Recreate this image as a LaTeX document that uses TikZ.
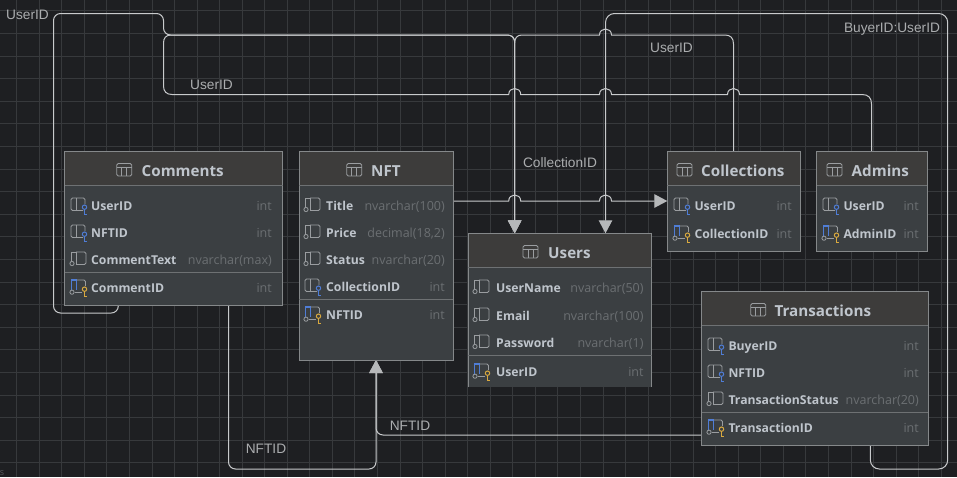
\documentclass[tikz,border=0pt]{standalone}
\usepackage{fontspec}
\setmainfont{Open Sans}
\newfontfamily\lblfont{Liberation Sans}
\usetikzlibrary{arrows.meta,calc}
\definecolor{bgc}{HTML}{1E1F22}
\definecolor{gridc}{HTML}{37393C}
\definecolor{bodyc}{HTML}{3B3F42}
\definecolor{hdrc}{HTML}{3D3C3B}
\definecolor{edgec}{HTML}{85888A}
\definecolor{sepc}{HTML}{6E7173}
\definecolor{relc}{HTML}{C8CACC}
\definecolor{tipc}{HTML}{B6B8BA}
\definecolor{namec}{HTML}{BFC5CC}
\definecolor{typec}{HTML}{6B6F72}
\definecolor{lblc}{HTML}{ABADAF}
\definecolor{iconc}{HTML}{9A9DA0}
\definecolor{bluec}{HTML}{4F7DD6}
\definecolor{yelc}{HTML}{D9A93F}
\tikzset{
  tbl/.style={fill=bodyc,draw=edgec,line width=1pt,anchor=north west,inner sep=0pt,outer sep=0pt},
  tblopen/.style={fill=bodyc,draw=none,anchor=north west,inner sep=0pt,outer sep=0pt},
  hdr/.style={fill=hdrc},
  sepline/.style={draw=sepc,line width=1pt},
  edgeline/.style={draw=edgec,line width=1pt},
  rel/.style={draw=relc,line width=1pt,rounded corners=7pt},
  relsharp/.style={draw=relc,line width=1pt},
  tipped/.style={-{Triangle[width=13.5pt,length=13pt,fill=tipc,color=tipc]}},
  lbl/.style={text=lblc,font=\lblfont\fontsize{13.7}{15}\selectfont,inner sep=0pt},
  title/.style={text=namec,font=\bfseries\fontsize{15.2}{17}\selectfont,anchor=base west,inner sep=0pt},
  colname/.style={text=namec,font=\bfseries\fontsize{12.2}{14}\selectfont,anchor=base west,inner sep=0pt},
  coltype/.style={text=typec,font=\fontsize{12.5}{14}\selectfont,anchor=base east,inner sep=0pt},
  icontable/.pic={
    \draw[iconc,line width=.9pt,rounded corners=1.5pt] (0,-6.5) rectangle (15,6);
    \draw[iconc,line width=.8pt] (0,-3) -- (15,-3) (5,-3) -- (5,6) (10,-3) -- (10,6);
  },
  iconplain/.pic={
    \draw[iconc,line width=.9pt,rounded corners=1.5pt] (6,-7) -- (16,-7) -- (16,5.5) -- (6,5.5);
    \draw[iconc,line width=.9pt] (6,-7) -- (1.5,-7) -- (1.5,2.5);
    \draw[iconc,line width=.9pt] (6,-7) -- (6,5.5);
    \draw[iconc,line width=.8pt,fill=bodyc] (2,4.5) circle (2.1pt);
  },
  iconfk/.pic={
    \draw[iconc,line width=.9pt,rounded corners=1.5pt] (13,5.5) -- (1,5.5) -- (1,-7) -- (15,-7) -- (15,-1);
    \draw[iconc,line width=.9pt] (6,-7) -- (6,5.5);
    \draw[bluec,line width=1pt] (14.5,2.2) circle (2.2pt);
    \draw[bluec,line width=1pt] (14.5,4.4) -- (14.5,9) -- (16.5,9);
  },
  iconpk/.pic={
    \draw[bluec,line width=1.1pt] (1.5,3) -- (1.5,-7) -- (6.5,-7) -- (6.5,3);
    \draw[iconc,line width=.9pt,rounded corners=1.5pt] (6.5,-7) -- (15.5,-7) -- (15.5,-1);
    \draw[iconc,line width=.9pt] (5,5.5) -- (12,5.5);
    \draw[iconc,line width=.8pt,fill=bodyc] (2,5.2) circle (2.1pt);
    \draw[yelc,line width=1pt] (14.5,2.2) circle (2.2pt);
    \draw[yelc,line width=1pt] (14.5,4.4) -- (14.5,9) -- (16.5,9);
  },
}
% id, icon, icon x, text x, type right x, row centre y, name, type
\newcommand{\colrow}[8]{%
  \pic at (#3,#6) {#2};
  \node[colname] (#1n) at (#4,#6+5) {#7};
  \node[coltype] (#1t) at (#5,#6+5) {#8};
}
\newcommand{\tbltitle}[5]{%
  \pic at (#2,#5) {icontable};
  \node[title] (#1) at (#3,#5+6) {#4};
}
\begin{document}
\begin{tikzpicture}[x=1pt,y=-1pt]
\useasboundingbox (0,0) rectangle (957,477);
\fill[bgc] (0,0) rectangle (957,477);
% canvas grid
\foreach \i in {0,...,42} {\draw[gridc,line width=.9pt] ({-5.9+22.55*\i},0) -- ({-5.9+22.55*\i},477);}
\foreach \i in {0,...,21} {\draw[gridc,line width=.9pt] (0,{10.9+22.6*\i}) -- (957,{10.9+22.6*\i});}
\node[text=typec!70!bgc,font=\fontsize{9}{10}\selectfont,inner sep=0pt] (cornertext) at (2,473) {s};
% tables (shapes)
\node[tbl,minimum width=218pt,minimum height=153.4pt] (comments) at (64.7,151.7) {};
\node[tbl,minimum width=154pt,minimum height=208.3pt] (nft) at (299.3,151.7) {};
\node[tblopen,minimum width=183.4pt,minimum height=153.7pt] (users) at (468.3,233.3) {};
\node[tbl,minimum width=133pt,minimum height=99.3pt] (collections) at (667.3,151.7) {};
\node[tbl,minimum width=110.6pt,minimum height=99.3pt] (admins) at (816.7,151.7) {};
\node[tbl,minimum width=226.6pt,minimum height=153.6pt] (transactions) at (701.7,291.7) {};
% connectors
\draw[rel,tipped] ($(comments.south west)+(53.6,0)$) -- (118.3,313) -- (53.5,313) -- (53.5,13.5) -- (163.5,13.5) -- (163.5,35) -- (514.7,35) -- ($(users.north west)+(46.4,0)$);
\draw[relsharp,tipped] ($(collections.north west)+(66.2,0)$) -- (733.5,44) .. controls (733.5,38) and (730.5,35) .. (725,35) -- (611.5,35) .. controls (611.5,27) and (599.5,27) .. (599.5,35) -- (522,35) .. controls (517,35) and (514.7,38) .. (514.7,43) -- ($(users.north west)+(46.4,0)$);
\draw[relsharp,tipped] ($(admins.north west)+(54.8,0)$) -- (871.5,104) .. controls (871.5,98) and (868.5,94.5) .. (862,94.5) -- (739.5,94.5) .. controls (739.5,86.5) and (727.5,86.5) .. (727.5,94.5) -- (611.5,94.5) .. controls (611.5,86.5) and (599.5,86.5) .. (599.5,94.5) -- (520.7,94.5) .. controls (520.7,86.5) and (508.7,86.5) .. (508.7,94.5) -- (172,94.5) .. controls (166.5,94.5) and (163.5,91.5) .. (163.5,86) -- (163.5,43) .. controls (163.5,38) and (166,35) .. (171,35) -- (507,35) .. controls (512.5,35) and (514.7,38) .. (514.7,43) -- ($(users.north west)+(46.4,0)$);
\draw[rel,tipped,rounded corners=9pt] ($(transactions.south west)+(168.6,0)$) -- (870.3,469) -- (947.7,469) -- (947.7,13.5) -- (605.5,13.5) -- ($(users.north west)+(137.2,0)$);
\draw[relsharp,tipped] (nft.east |- 0,201) -- (508.7,201) .. controls (508.7,193) and (520.7,193) .. (520.7,201) -- (599.5,201) .. controls (599.5,193) and (611.5,193) .. (611.5,201) -- (collections.west |- 0,201);
\draw[rel,tipped] ($(comments.south west)+(163.9,0)$) -- (228.5,469) -- (376,469) -- ($(nft.south west)+(76.7,0)$);
\draw[rel,tipped] (transactions.west |- 0,435) -- (376,435) -- ($(nft.south west)+(76.7,0)$);
% redraw table fronts (headers, separators)
\fill[hdr] (comments.north west) rectangle ($(comments.north east)+(0,34)$);
\fill[hdr] (nft.north west) rectangle ($(nft.north east)+(0,34)$);
\fill[hdr] (users.north west) rectangle ($(users.north east)+(0,34.4)$);
\fill[hdr] (collections.north west) rectangle ($(collections.north east)+(0,33.6)$);
\fill[hdr] (admins.north west) rectangle ($(admins.north east)+(0,33.6)$);
\fill[hdr] (transactions.north west) rectangle ($(transactions.north east)+(0,34)$);
\draw[edgeline] (comments.north west) rectangle (comments.south east);
\draw[edgeline] (nft.north west) rectangle (nft.south east);
\draw[edgeline] (users.south west) -- (users.north west) -- (users.north east) -- (users.south east);
\draw[edgeline] (collections.north west) rectangle (collections.south east);
\draw[edgeline] (admins.north west) rectangle (admins.south east);
\draw[edgeline] (transactions.north west) rectangle (transactions.south east);
\draw[sepline] ($(comments.north west)+(0,34)$) -- ($(comments.north east)+(0,34)$);
\draw[sepline] ($(comments.north west)+(0,120.6)$) -- ($(comments.north east)+(0,120.6)$);
\draw[sepline] ($(nft.north west)+(0,34)$) -- ($(nft.north east)+(0,34)$);
\draw[sepline] ($(nft.north west)+(0,147.6)$) -- ($(nft.north east)+(0,147.6)$);
\draw[sepline] ($(users.north west)+(0,34.4)$) -- ($(users.north east)+(0,34.4)$);
\draw[sepline] ($(users.north west)+(0,121.7)$) -- ($(users.north east)+(0,121.7)$);
\draw[sepline] ($(collections.north west)+(0,33.6)$) -- ($(collections.north east)+(0,33.6)$);
\draw[sepline] ($(admins.north west)+(0,33.6)$) -- ($(admins.north east)+(0,33.6)$);
\draw[sepline] ($(transactions.north west)+(0,34)$) -- ($(transactions.north east)+(0,34)$);
\draw[sepline] ($(transactions.north west)+(0,120.6)$) -- ($(transactions.north east)+(0,120.6)$);
% titles
\tbltitle{tc}{116.7}{141.5}{Comments}{170}
\tbltitle{tn}{346.7}{371}{NFT}{170}
\tbltitle{tu}{523}{548}{Users}{252}
\tbltitle{tl}{677}{701}{Collections}{170}
\tbltitle{ta}{827}{851.5}{Admins}{170}
\tbltitle{tr}{750.7}{774.3}{Transactions}{310}
% rows
\colrow{c1}{iconfk}{70}{91}{272}{205}{UserID}{int}
\colrow{c2}{iconfk}{70}{91}{272}{232}{NFTID}{int}
\colrow{c3}{iconplain}{70}{91}{272}{259}{CommentText}{nvarchar(max)}
\colrow{c4}{iconpk}{70}{91}{272}{287}{CommentID}{int}
\colrow{n1}{iconplain}{304}{326}{445}{205}{Title}{nvarchar(100)}
\colrow{n2}{iconplain}{304}{326}{445}{232}{Price}{decimal(18,2)}
\colrow{n3}{iconplain}{304}{326}{445}{259}{Status}{nvarchar(20)}
\colrow{n4}{iconfk}{304}{326}{445}{286}{CollectionID}{int}
\colrow{n5}{iconpk}{304}{326}{445}{314}{NFTID}{int}
\colrow{u1}{iconplain}{473}{496}{643.7}{287}{UserName}{nvarchar(50)}
\colrow{u2}{iconplain}{473}{496}{643.7}{315}{Email}{nvarchar(100)}
\colrow{u3}{iconplain}{473}{496}{643.7}{342}{Password}{nvarchar(1)}
\colrow{u4}{iconpk}{473}{496}{643.7}{371}{UserID}{int}
\colrow{l1}{iconfk}{673}{694.3}{792}{205}{UserID}{int}
\colrow{l2}{iconpk}{673}{694.3}{792}{233}{CollectionID}{int}
\colrow{a1}{iconfk}{822}{843.3}{919}{205}{UserID}{int}
\colrow{a2}{iconpk}{822}{843.3}{919}{233}{AdminID}{int}
\colrow{r1}{iconfk}{707}{728.3}{919}{345}{BuyerID}{int}
\colrow{r2}{iconfk}{707}{728.3}{919}{372}{NFTID}{int}
\colrow{r3}{iconplain}{707}{728.3}{919}{399}{TransactionStatus}{nvarchar(20)}
\colrow{r4}{iconpk}{707}{728.3}{919}{427}{TransactionID}{int}
% connector labels
\node[lbl] (l1) at (27.5,14.5) {UserID};
\node[lbl] (l2) at (211.5,84.5) {UserID};
\node[lbl] (l3) at (671.5,47.5) {UserID};
\node[lbl] (l4) at (892,29.5) {BuyerID:UserID};
\node[lbl] (l5) at (560,162.5) {CollectionID};
\node[lbl] (l6) at (410,425.5) {NFTID};
\node[lbl] (l7) at (266,448.5) {NFTID};
\end{tikzpicture}
\end{document}
